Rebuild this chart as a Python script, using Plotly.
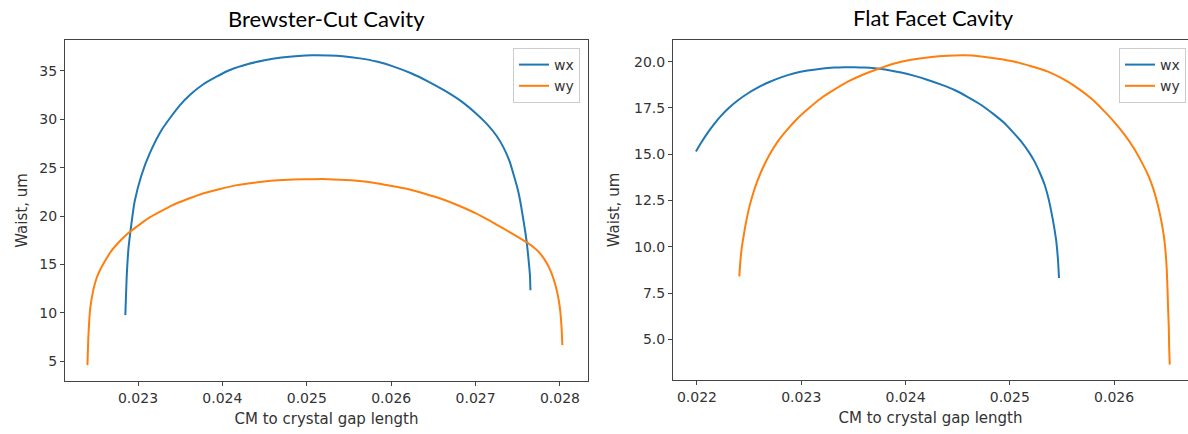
import plotly.graph_objects as go

# ---- Left panel: Brewster-Cut Cavity ----
bc_wx_x = [0.02285, 0.022858, 0.022867, 0.022887, 0.02292, 0.02296, 0.02304, 0.02314, 0.02328,
           0.02349, 0.023627, 0.02377, 0.02393, 0.02409, 0.024295, 0.0245, 0.0247, 0.0249,
           0.025063, 0.02527, 0.025427, 0.02563, 0.02583, 0.02603, 0.026236, 0.02644, 0.02664,
           0.02684, 0.027005, 0.02713, 0.027248, 0.02733, 0.027401, 0.02745, 0.0275, 0.02753,
           0.02756, 0.02759, 0.027612, 0.02763, 0.027644, 0.02765]
bc_wx_y = [9.76, 11.83, 13.9, 16.66, 19.07, 21.5, 24.2, 26.5, 28.9,
           31.4, 32.62, 33.6, 34.41, 35.1, 35.69, 36.1, 36.38, 36.55,
           36.62, 36.6, 36.52, 36.3, 35.97, 35.45, 34.76, 33.9, 32.93,
           31.8, 30.6, 29.55, 28.3, 27.1, 25.7, 24.3, 22.75, 21.5,
           19.93, 18.3, 16.83, 15.3, 13.9, 12.34]

bc_wy_x = [0.022401, 0.022413, 0.022434, 0.022474, 0.022514, 0.022555, 0.022616, 0.022676,
           0.022778, 0.022879, 0.023, 0.023121, 0.023263, 0.023405, 0.023587, 0.023769,
           0.023971, 0.024173, 0.024375, 0.024578, 0.02478, 0.024982, 0.025185, 0.025387,
           0.025589, 0.025791, 0.025994, 0.026196, 0.026398, 0.0266, 0.026803, 0.027005,
           0.027167, 0.027328, 0.02749, 0.027612, 0.027712, 0.027773, 0.027846, 0.027895,
           0.027943, 0.027976, 0.027996, 0.028008, 0.02802, 0.028028]
bc_wy_y = [4.59, 7.69, 10.45, 12.5, 13.7, 14.5, 15.45, 16.3,
           17.34, 18.2, 19.0, 19.76, 20.45, 21.1, 21.76, 22.34,
           22.8, 23.2, 23.45, 23.66, 23.76, 23.8, 23.83, 23.76,
           23.66, 23.45, 23.14, 22.8, 22.31, 21.76, 21.07, 20.28,
           19.52, 18.72, 17.9, 17.25, 16.6, 16.05, 15.1, 14.2,
           12.95, 11.75, 10.7, 9.75, 8.25, 6.66]

# ---- Right panel: Flat Facet Cavity ----
ff_wx_x = [0.02199, 0.022038, 0.022102, 0.022166, 0.02223, 0.02231, 0.02239, 0.022486,
           0.022582, 0.022694, 0.022806, 0.022934, 0.023062, 0.02319, 0.023318, 0.023414,
           0.02351, 0.023606, 0.023702, 0.02383, 0.023958, 0.024086, 0.024214, 0.024342,
           0.02447, 0.024598, 0.024726, 0.024838, 0.02495, 0.02503, 0.02511, 0.02518,
           0.025238, 0.02529, 0.025334, 0.02537, 0.025398, 0.025424, 0.025446, 0.025462, 0.025472]
ff_wx_y = [15.14, 15.6, 16.15, 16.64, 17.07, 17.52, 17.9, 18.28,
           18.6, 18.9, 19.15, 19.37, 19.52, 19.62, 19.68, 19.7,
           19.7, 19.68, 19.64, 19.55, 19.41, 19.23, 19.01, 18.76,
           18.47, 18.09, 17.66, 17.19, 16.67, 16.19, 15.68, 15.14,
           14.6, 13.97, 13.35, 12.63, 11.9, 11.1, 10.29, 9.3, 8.31]

ff_wy_x = [0.022406, 0.022416, 0.022429, 0.022448, 0.02247, 0.0225, 0.022534, 0.022576,
           0.02263, 0.022694, 0.022774, 0.022864, 0.022966, 0.023072, 0.02319, 0.023312,
           0.023446, 0.023584, 0.023734, 0.023894, 0.024054, 0.02423, 0.024406, 0.024566,
           0.024726, 0.024886, 0.025046, 0.025206, 0.025366, 0.025514, 0.025654, 0.02579,
           0.02591, 0.026013, 0.026102, 0.02619, 0.026262, 0.026326, 0.026374, 0.026419,
           0.026454, 0.02648, 0.026496, 0.026506, 0.026512, 0.026518, 0.026525, 0.026528, 0.026534]
ff_wy_y = [8.4, 9.21, 9.93, 10.6, 11.3, 12.1, 12.8, 13.5,
           14.24, 14.96, 15.68, 16.31, 16.94, 17.48, 18.02, 18.47,
           18.92, 19.28, 19.6, 19.9, 20.1, 20.24, 20.32, 20.34,
           20.28, 20.16, 20.0, 19.75, 19.46, 19.05, 18.56, 17.97,
           17.3, 16.67, 16.04, 15.32, 14.6, 13.88, 13.17, 12.27,
           11.37, 10.47, 9.57, 8.67, 7.77, 6.69, 5.61, 4.62, 3.63]

titles = ["Brewster-Cut Cavity", "Flat Facet Cavity"]
xlabel = "CM to crystal gap length"
ylabel = "Waist, um"

BLUE = "#1f77b4"
ORANGE = "#ff7f0e"
W, H = 1188, 434

fig = go.Figure()
line_kw = dict(width=2, shape="spline", smoothing=0.6)
fig.add_trace(go.Scatter(x=bc_wx_x, y=bc_wx_y, mode="lines", name="wx", line=dict(color=BLUE, **line_kw), xaxis="x", yaxis="y", legend="legend"))
fig.add_trace(go.Scatter(x=bc_wy_x, y=bc_wy_y, mode="lines", name="wy", line=dict(color=ORANGE, **line_kw), xaxis="x", yaxis="y", legend="legend"))
fig.add_trace(go.Scatter(x=ff_wx_x, y=ff_wx_y, mode="lines", name="wx", line=dict(color=BLUE, **line_kw), xaxis="x2", yaxis="y2", legend="legend2"))
fig.add_trace(go.Scatter(x=ff_wy_x, y=ff_wy_y, mode="lines", name="wy", line=dict(color=ORANGE, **line_kw), xaxis="x2", yaxis="y2", legend="legend2"))

tickfont = dict(family="DejaVu Sans", size=14, color="#333333")
labfont = dict(family="DejaVu Sans", size=15, color="#333333")
axcommon = dict(showgrid=False, zeroline=False, showline=True, linecolor="#444444", linewidth=1,
                ticks="outside", ticklen=4, tickcolor="#444444", tickfont=tickfont)

y_dom = [1 - 381 / H, 1 - 40 / H]
y_dom2 = [1 - 380 / H, 1 - 40 / H]
legfont = dict(family="DejaVu Sans", size=14, color="#333333")

fig.update_layout(
    width=W, height=H,
    margin=dict(l=0, r=0, t=0, b=0),
    paper_bgcolor="white", plot_bgcolor="white",
    xaxis=dict(domain=[65 / W, 588 / W], range=[0.022135, 0.028332], dtick=0.001, tick0=0.022,
               tickformat=".3f", mirror=True, anchor="y",
               title=dict(text=xlabel, font=labfont, standoff=8), **axcommon),
    yaxis=dict(domain=y_dom, range=[2.95, 38.2], dtick=5, tick0=0, mirror=True, anchor="x",
               title=dict(text=ylabel, font=labfont, standoff=8), **axcommon),
    xaxis2=dict(domain=[673 / W, 1.0], range=[0.02177, 0.026709], dtick=0.001, tick0=0.022,
                tickformat=".3f", mirror=True, anchor="y2",
                title=dict(text=xlabel, font=labfont, standoff=8), **axcommon),
    yaxis2=dict(domain=y_dom2, range=[2.8, 21.17], dtick=2.5, tick0=0, tickformat=".1f", anchor="x2",
                title=dict(text=ylabel, font=labfont, standoff=10), **axcommon),
    legend=dict(x=580 / W, y=1 - 48 / H, xanchor="right", yanchor="top",
                bgcolor="rgba(255,255,255,0.8)", bordercolor="#cccccc", borderwidth=1,
                font=legfont, itemwidth=30),
    legend2=dict(x=1186 / W, y=1 - 48 / H, xanchor="right", yanchor="top",
                 bgcolor="rgba(255,255,255,0.8)", bordercolor="#cccccc", borderwidth=1,
                 font=legfont, itemwidth=30),
    showlegend=True,
)

fig.add_annotation(text=titles[0], x=(65 + 588) / 2 / W, y=1 - 18 / H, xref="paper", yref="paper",
                   showarrow=False, xanchor="center", yanchor="middle",
                   font=dict(family="Lato", size=22, color="black"))
fig.add_annotation(text=titles[1], x=(673 + 1194) / 2 / W, y=1 - 17 / H, xref="paper", yref="paper",
                   showarrow=False, xanchor="center", yanchor="middle",
                   font=dict(family="Lato", size=22, color="black"))

fig.write_html("out.html")
